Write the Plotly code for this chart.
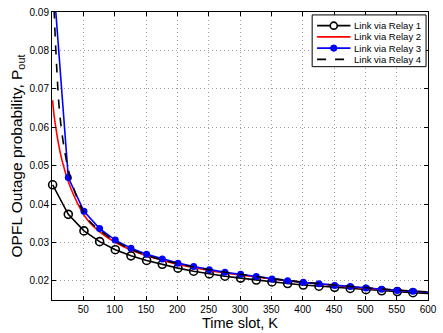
import plotly.graph_objects as go

# --- data ---
series_names = ["Link via Relay 1", "Link via Relay 2", "Link via Relay 3", "Link via Relay 4"]

k_marked = [1, 26, 51, 76, 101, 126, 151, 176, 201, 226, 251, 276, 301,
            326, 351, 376, 401, 426, 451, 476, 501, 526, 551, 576, 601]
relay1 = [0.0450, 0.0373, 0.0330, 0.0302, 0.0281, 0.0265, 0.0253, 0.0243, 0.0233,
          0.0225, 0.0218, 0.0212, 0.0207, 0.0202, 0.0197, 0.0193, 0.0189, 0.0186,
          0.0183, 0.0180, 0.0177, 0.0174, 0.0172, 0.0169, 0.0167]
relay3 = [0.1010, 0.0469, 0.0381, 0.0336, 0.0306, 0.0285, 0.0269, 0.0257, 0.0246,
          0.0237, 0.0229, 0.0222, 0.0217, 0.0211, 0.0205, 0.0200, 0.0196, 0.0192,
          0.0188, 0.0185, 0.0181, 0.0178, 0.0175, 0.0173, 0.0170]

k_relay2 = [1, 3, 6, 10, 15, 20, 25, 30, 40, 50, 60, 75, 100, 125, 150, 175, 200,
            250, 300, 350, 400, 450, 500, 550, 600]
relay2 = [0.0670, 0.0635, 0.0600, 0.0560, 0.0520, 0.0490, 0.0463, 0.0441, 0.0404,
          0.0374, 0.0352, 0.0329, 0.0301, 0.0281, 0.0266, 0.0254, 0.0243, 0.0227,
          0.0215, 0.0205, 0.0196, 0.0188, 0.0181, 0.0175, 0.0170]

k_relay4 = [1, 3, 5, 8, 11, 15, 20, 25, 30, 40, 50, 60, 75, 100, 125, 150, 175, 200,
            250, 300, 350, 400, 450, 500, 550, 600]
relay4 = [0.1000, 0.0920, 0.0840, 0.0740, 0.0660, 0.0595, 0.0540, 0.0497, 0.0465,
          0.0416, 0.0379, 0.0355, 0.0333, 0.0304, 0.0283, 0.0267, 0.0255, 0.0245,
          0.0229, 0.0217, 0.0206, 0.0197, 0.0189, 0.0182, 0.0176, 0.0171]

x_ticks = [50, 100, 150, 200, 250, 300, 350, 400, 450, 500, 550, 600]
y_ticks = [0.02, 0.03, 0.04, 0.05, 0.06, 0.07, 0.08, 0.09]
x_range = [0, 600]
y_range = [0.015, 0.09]

FONT = "Liberation Sans, Arial, sans-serif"
W, H = 443, 333
ML, MR, MT, MB = 52, 8, 6, 32
LW = 1.6


def visible(xs, ys):
    pts = [(x, y) for x, y in zip(xs, ys)
           if x_range[0] <= x <= x_range[1] and y_range[0] <= y <= y_range[1]]
    return [p[0] for p in pts], [p[1] for p in pts]


# pixel -> paper helpers (for the hand-made legend box)
def px(p):
    return (p - ML) / (W - ML - MR)


def py(p):
    return (H - MB - p) / (H - MT - MB)


fig = go.Figure()

# relay 1: black line with open circles
fig.add_trace(go.Scatter(x=k_marked, y=relay1, mode="lines",
                         line=dict(color="black", width=LW), hoverinfo="skip"))
mx, my = visible(k_marked, relay1)
fig.add_trace(go.Scatter(x=mx, y=my, mode="markers", cliponaxis=False,
                         marker=dict(symbol="circle-open", size=8, color="black",
                                     line=dict(width=LW)), hoverinfo="skip"))

# relay 2: smooth red line
fig.add_trace(go.Scatter(x=k_relay2, y=relay2, mode="lines",
                         line=dict(color="#ff0000", width=LW, shape="spline")))

# relay 3: blue line with filled dots
fig.add_trace(go.Scatter(x=k_marked, y=relay3, mode="lines",
                         line=dict(color="#0000ff", width=LW), hoverinfo="skip"))
mx, my = visible(k_marked, relay3)
fig.add_trace(go.Scatter(x=mx, y=my, mode="markers", cliponaxis=False,
                         marker=dict(symbol="circle", size=7, color="#0000ff"),
                         hoverinfo="skip"))

# relay 4: black dashed
fig.add_trace(go.Scatter(x=k_relay4, y=relay4, mode="lines",
                         line=dict(color="black", width=LW, dash="dash", shape="spline")))

# --- legend (matlab-style compact box) ---
fig.add_shape(type="rect", xref="paper", yref="paper",
              x0=px(317), x1=px(433), y0=py(62), y1=py(9),
              line=dict(color="black", width=1), fillcolor="white", layer="above")
row_y = [20, 31.5, 43, 54.5]
styles = [("black", "solid"), ("#ff0000", "solid"), ("#0000ff", "solid"), ("black", "dash")]
for i, name in enumerate(series_names):
    col, dash = styles[i]
    fig.add_shape(type="line", xref="paper", yref="paper",
                  x0=px(322), x1=px(356), y0=py(row_y[i]), y1=py(row_y[i]),
                  line=dict(color=col, width=LW, dash=dash), layer="above")
    fig.add_annotation(x=px(358), y=py(row_y[i]), xref="paper", yref="paper",
                       text=name, showarrow=False, xanchor="left", yanchor="middle",
                       font=dict(family=FONT, size=9.5, color="black"))
# legend markers
fig.add_shape(type="circle", xref="paper", yref="paper",
              xsizemode="pixel", ysizemode="pixel",
              xanchor=px(339), yanchor=py(row_y[0]), x0=-3.5, x1=3.5, y0=-3.5, y1=3.5,
              line=dict(color="black", width=LW), fillcolor="white", layer="above")
fig.add_shape(type="circle", xref="paper", yref="paper",
              xsizemode="pixel", ysizemode="pixel",
              xanchor=px(339), yanchor=py(row_y[2]), x0=-3.2, x1=3.2, y0=-3.2, y1=3.2,
              line=dict(color="#0000ff", width=1), fillcolor="#0000ff", layer="above")

axis_style = dict(showline=True, linecolor="black", linewidth=1, mirror="ticks",
                  ticks="inside", ticklen=4, tickcolor="black",
                  showgrid=True, gridcolor="#a0a0a0", griddash="1px,3px", gridwidth=1,
                  zeroline=False, ticklabeloverflow="allow",
                  tickfont=dict(family=FONT, size=10, color="black"))

fig.update_xaxes(range=x_range, tickvals=x_ticks,
                 title=dict(text="Time slot, K", font=dict(family=FONT, size=14.5, color="black"),
                            standoff=2),
                 **axis_style)
fig.update_yaxes(range=y_range, tickvals=y_ticks, tickformat=".2f",
                 title=dict(text="OPFL Outage probability, P<sub>out</sub>",
                            font=dict(family=FONT, size=15.5, color="black"), standoff=3),
                 **axis_style)

fig.update_layout(
    width=W, height=H,
    margin=dict(l=ML, r=MR, t=MT, b=MB),
    paper_bgcolor="white", plot_bgcolor="white",
    font=dict(family=FONT, color="black"),
    showlegend=False,
)

fig.write_html("out.html", config={"displayModeBar": False},
               post_script="document.body.style.margin='0';")
